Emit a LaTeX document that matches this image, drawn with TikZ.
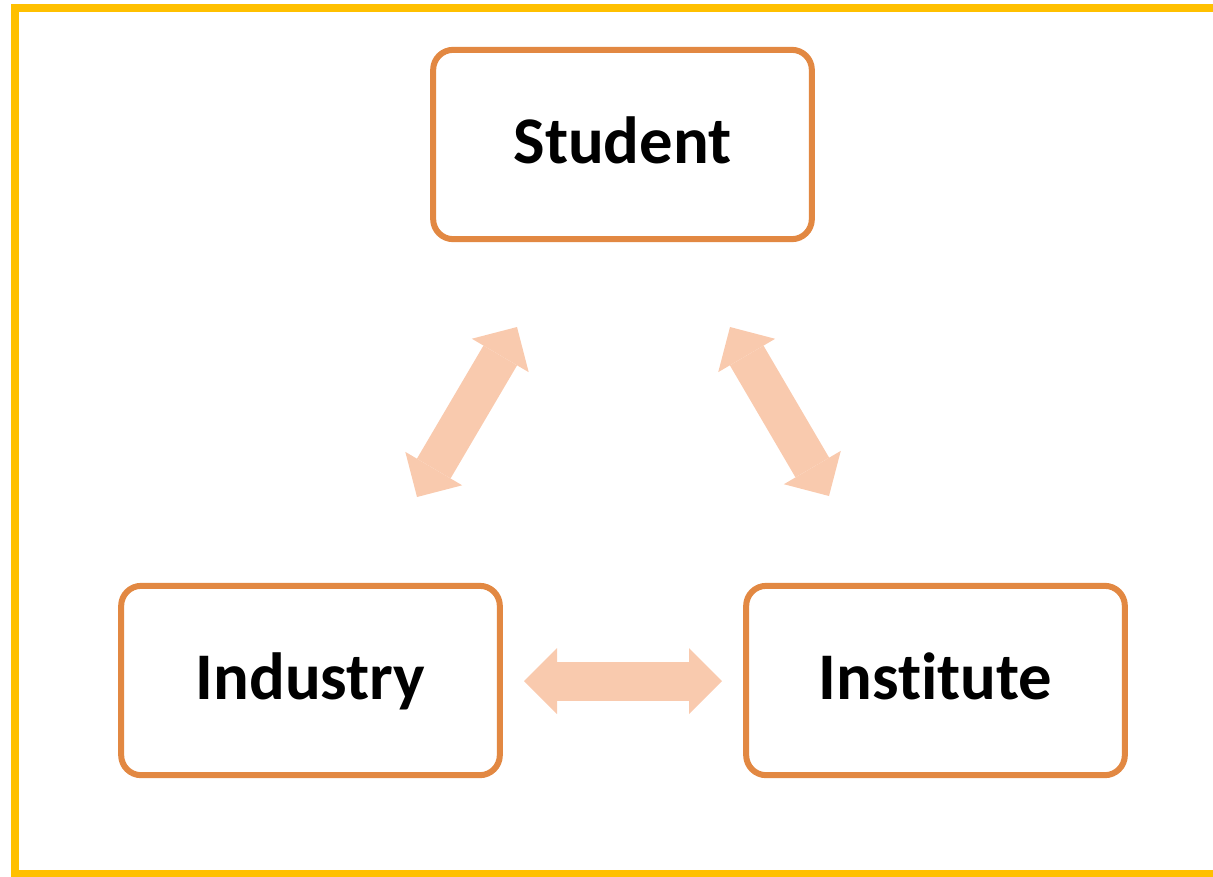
\documentclass[tikz,border=0pt]{standalone}
\usepackage{fontspec}
\setmainfont{Carlito}[Ligatures = {NoCommon, NoRequired}]
\usetikzlibrary{arrows.meta}

\definecolor{frameyellow}{RGB}{255,192,0}
\definecolor{boxorange}{RGB}{226,136,66}
\definecolor{peach}{RGB}{249,202,174}

\tikzset{partner/.style = {draw = boxorange, line width = 4.5pt, rounded corners = 15pt,
                           fill = white,
                           minimum width = 284pt, minimum height = 142pt,
                           text height = 28pt, text depth = 0pt,
                           font = \fontsize{50pt}{56pt}\selectfont\bfseries},
         fatend/.tip = {Triangle[length = 24.75pt, width = 49.5pt, line width = 0pt]},
         link/.style = {draw = peach, line width = 29.25pt, fatend-fatend}
        }

\begin{document}
\begin{tikzpicture}[x=0.75pt, y=-0.75pt]
\useasboundingbox (0,0) rectangle (1213,876);
\clip (0,0) rectangle (1213,876);
\draw[frameyellow, line width = 6pt] (15,7.5) rectangle (1230,874);

\node[partner] (student)   at (622.5,144.5) {Student};
\node[partner] (industry)  at (310.5,680.5) {Industry};
\node[partner] (institute) at (935.5,680.5) {Institute};

% free ends of the links
\coordinate (si) at (517,327);
\coordinate (is) at (417,497);
\coordinate (st) at (730,327);
\coordinate (ts) at (829,496);
\coordinate (it) at (524,681);
\coordinate (ti) at (722,681);

\draw[link] (si) -- (is);
\draw[link] (st) -- (ts);
\draw[link] (it) -- (ti);
\end{tikzpicture}
\end{document}
